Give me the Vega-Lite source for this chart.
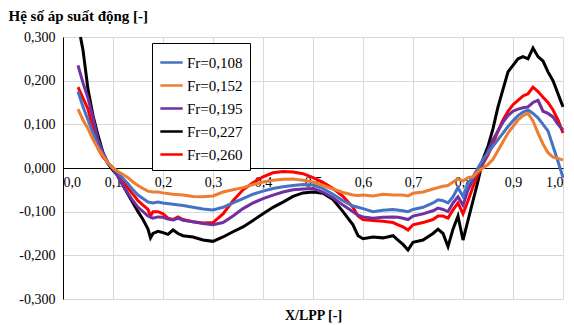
{
  "$schema": "https://vega.github.io/schema/vega-lite/v6.json",
  "width": 500,
  "height": 262,
  "autosize": {"type": "none"},
  "padding": {"left": 63, "top": 37, "right": 11, "bottom": 26},
  "config": {
    "locale": {"number": {"decimal": ",", "thousands": ".", "grouping": [3], "currency": ["", ""], "minus": "-"}},
    "view": {"stroke": null},
    "font": "'Liberation Serif', 'DejaVu Serif', serif"
  },
  "data": {"values": [
    {"s":"Fr=0,227","x":0.035,"y":0.30},{"s":"Fr=0,227","x":0.04,"y":0.27},{"s":"Fr=0,227","x":0.05,"y":0.18},{"s":"Fr=0,227","x":0.06,"y":0.12},{"s":"Fr=0,227","x":0.07,"y":0.075},{"s":"Fr=0,227","x":0.08,"y":0.035},{"s":"Fr=0,227","x":0.09,"y":0.01},{"s":"Fr=0,227","x":0.10,"y":-0.005},{"s":"Fr=0,227","x":0.11,"y":-0.018},{"s":"Fr=0,227","x":0.12,"y":-0.04},{"s":"Fr=0,227","x":0.13,"y":-0.06},{"s":"Fr=0,227","x":0.14,"y":-0.08},{"s":"Fr=0,227","x":0.15,"y":-0.10},{"s":"Fr=0,227","x":0.16,"y":-0.118},{"s":"Fr=0,227","x":0.17,"y":-0.14},{"s":"Fr=0,227","x":0.175,"y":-0.16},{"s":"Fr=0,227","x":0.18,"y":-0.15},{"s":"Fr=0,227","x":0.19,"y":-0.145},{"s":"Fr=0,227","x":0.20,"y":-0.148},{"s":"Fr=0,227","x":0.21,"y":-0.152},{"s":"Fr=0,227","x":0.22,"y":-0.142},{"s":"Fr=0,227","x":0.23,"y":-0.15},{"s":"Fr=0,227","x":0.24,"y":-0.155},{"s":"Fr=0,227","x":0.26,"y":-0.158},{"s":"Fr=0,227","x":0.28,"y":-0.165},{"s":"Fr=0,227","x":0.30,"y":-0.168},{"s":"Fr=0,227","x":0.32,"y":-0.158},{"s":"Fr=0,227","x":0.34,"y":-0.146},{"s":"Fr=0,227","x":0.36,"y":-0.135},{"s":"Fr=0,227","x":0.38,"y":-0.12},{"s":"Fr=0,227","x":0.40,"y":-0.105},{"s":"Fr=0,227","x":0.42,"y":-0.09},{"s":"Fr=0,227","x":0.44,"y":-0.078},{"s":"Fr=0,227","x":0.46,"y":-0.065},{"s":"Fr=0,227","x":0.48,"y":-0.057},{"s":"Fr=0,227","x":0.50,"y":-0.055},{"s":"Fr=0,227","x":0.52,"y":-0.058},{"s":"Fr=0,227","x":0.54,"y":-0.072},{"s":"Fr=0,227","x":0.56,"y":-0.10},{"s":"Fr=0,227","x":0.58,"y":-0.13},{"s":"Fr=0,227","x":0.59,"y":-0.155},{"s":"Fr=0,227","x":0.60,"y":-0.162},{"s":"Fr=0,227","x":0.62,"y":-0.158},{"s":"Fr=0,227","x":0.64,"y":-0.16},{"s":"Fr=0,227","x":0.66,"y":-0.155},{"s":"Fr=0,227","x":0.67,"y":-0.165},{"s":"Fr=0,227","x":0.68,"y":-0.175},{"s":"Fr=0,227","x":0.69,"y":-0.188},{"s":"Fr=0,227","x":0.70,"y":-0.17},{"s":"Fr=0,227","x":0.72,"y":-0.165},{"s":"Fr=0,227","x":0.74,"y":-0.15},{"s":"Fr=0,227","x":0.75,"y":-0.14},{"s":"Fr=0,227","x":0.76,"y":-0.15},{"s":"Fr=0,227","x":0.77,"y":-0.18},{"s":"Fr=0,227","x":0.78,"y":-0.14},{"s":"Fr=0,227","x":0.79,"y":-0.11},{"s":"Fr=0,227","x":0.80,"y":-0.165},{"s":"Fr=0,227","x":0.81,"y":-0.12},{"s":"Fr=0,227","x":0.82,"y":-0.075},{"s":"Fr=0,227","x":0.83,"y":-0.03},{"s":"Fr=0,227","x":0.84,"y":0.02},{"s":"Fr=0,227","x":0.85,"y":0.05},{"s":"Fr=0,227","x":0.86,"y":0.09},{"s":"Fr=0,227","x":0.87,"y":0.14},{"s":"Fr=0,227","x":0.88,"y":0.18},{"s":"Fr=0,227","x":0.89,"y":0.22},{"s":"Fr=0,227","x":0.90,"y":0.235},{"s":"Fr=0,227","x":0.91,"y":0.25},{"s":"Fr=0,227","x":0.92,"y":0.255},{"s":"Fr=0,227","x":0.93,"y":0.25},{"s":"Fr=0,227","x":0.94,"y":0.275},{"s":"Fr=0,227","x":0.95,"y":0.255},{"s":"Fr=0,227","x":0.96,"y":0.245},{"s":"Fr=0,227","x":0.97,"y":0.22},{"s":"Fr=0,227","x":0.98,"y":0.20},{"s":"Fr=0,227","x":0.99,"y":0.17},{"s":"Fr=0,227","x":1.00,"y":0.14},

    {"s":"Fr=0,260","x":0.03,"y":0.185},{"s":"Fr=0,260","x":0.04,"y":0.16},{"s":"Fr=0,260","x":0.05,"y":0.135},{"s":"Fr=0,260","x":0.06,"y":0.09},{"s":"Fr=0,260","x":0.07,"y":0.045},{"s":"Fr=0,260","x":0.08,"y":0.025},{"s":"Fr=0,260","x":0.09,"y":0.012},{"s":"Fr=0,260","x":0.10,"y":0.0},{"s":"Fr=0,260","x":0.11,"y":-0.015},{"s":"Fr=0,260","x":0.12,"y":-0.03},{"s":"Fr=0,260","x":0.13,"y":-0.046},{"s":"Fr=0,260","x":0.14,"y":-0.06},{"s":"Fr=0,260","x":0.15,"y":-0.075},{"s":"Fr=0,260","x":0.16,"y":-0.085},{"s":"Fr=0,260","x":0.17,"y":-0.095},{"s":"Fr=0,260","x":0.175,"y":-0.11},{"s":"Fr=0,260","x":0.18,"y":-0.10},{"s":"Fr=0,260","x":0.19,"y":-0.10},{"s":"Fr=0,260","x":0.20,"y":-0.105},{"s":"Fr=0,260","x":0.21,"y":-0.115},{"s":"Fr=0,260","x":0.22,"y":-0.118},{"s":"Fr=0,260","x":0.23,"y":-0.112},{"s":"Fr=0,260","x":0.24,"y":-0.118},{"s":"Fr=0,260","x":0.26,"y":-0.123},{"s":"Fr=0,260","x":0.28,"y":-0.126},{"s":"Fr=0,260","x":0.30,"y":-0.125},{"s":"Fr=0,260","x":0.32,"y":-0.105},{"s":"Fr=0,260","x":0.34,"y":-0.075},{"s":"Fr=0,260","x":0.36,"y":-0.05},{"s":"Fr=0,260","x":0.38,"y":-0.034},{"s":"Fr=0,260","x":0.40,"y":-0.02},{"s":"Fr=0,260","x":0.42,"y":-0.011},{"s":"Fr=0,260","x":0.44,"y":-0.008},{"s":"Fr=0,260","x":0.46,"y":-0.009},{"s":"Fr=0,260","x":0.48,"y":-0.013},{"s":"Fr=0,260","x":0.50,"y":-0.022},{"s":"Fr=0,260","x":0.52,"y":-0.033},{"s":"Fr=0,260","x":0.54,"y":-0.047},{"s":"Fr=0,260","x":0.56,"y":-0.065},{"s":"Fr=0,260","x":0.58,"y":-0.09},{"s":"Fr=0,260","x":0.59,"y":-0.11},{"s":"Fr=0,260","x":0.60,"y":-0.118},{"s":"Fr=0,260","x":0.62,"y":-0.12},{"s":"Fr=0,260","x":0.64,"y":-0.122},{"s":"Fr=0,260","x":0.66,"y":-0.125},{"s":"Fr=0,260","x":0.67,"y":-0.13},{"s":"Fr=0,260","x":0.68,"y":-0.135},{"s":"Fr=0,260","x":0.69,"y":-0.142},{"s":"Fr=0,260","x":0.70,"y":-0.13},{"s":"Fr=0,260","x":0.72,"y":-0.125},{"s":"Fr=0,260","x":0.74,"y":-0.118},{"s":"Fr=0,260","x":0.75,"y":-0.11},{"s":"Fr=0,260","x":0.76,"y":-0.11},{"s":"Fr=0,260","x":0.77,"y":-0.115},{"s":"Fr=0,260","x":0.78,"y":-0.096},{"s":"Fr=0,260","x":0.79,"y":-0.08},{"s":"Fr=0,260","x":0.80,"y":-0.105},{"s":"Fr=0,260","x":0.81,"y":-0.075},{"s":"Fr=0,260","x":0.82,"y":-0.043},{"s":"Fr=0,260","x":0.83,"y":-0.015},{"s":"Fr=0,260","x":0.84,"y":0.01},{"s":"Fr=0,260","x":0.85,"y":0.03},{"s":"Fr=0,260","x":0.86,"y":0.055},{"s":"Fr=0,260","x":0.87,"y":0.085},{"s":"Fr=0,260","x":0.88,"y":0.11},{"s":"Fr=0,260","x":0.89,"y":0.13},{"s":"Fr=0,260","x":0.90,"y":0.145},{"s":"Fr=0,260","x":0.91,"y":0.155},{"s":"Fr=0,260","x":0.92,"y":0.165},{"s":"Fr=0,260","x":0.93,"y":0.17},{"s":"Fr=0,260","x":0.94,"y":0.185},{"s":"Fr=0,260","x":0.95,"y":0.175},{"s":"Fr=0,260","x":0.96,"y":0.162},{"s":"Fr=0,260","x":0.97,"y":0.15},{"s":"Fr=0,260","x":0.98,"y":0.133},{"s":"Fr=0,260","x":0.99,"y":0.11},{"s":"Fr=0,260","x":1.00,"y":0.08},

    {"s":"Fr=0,195","x":0.03,"y":0.235},{"s":"Fr=0,195","x":0.04,"y":0.195},{"s":"Fr=0,195","x":0.05,"y":0.16},{"s":"Fr=0,195","x":0.06,"y":0.115},{"s":"Fr=0,195","x":0.07,"y":0.065},{"s":"Fr=0,195","x":0.08,"y":0.035},{"s":"Fr=0,195","x":0.09,"y":0.012},{"s":"Fr=0,195","x":0.10,"y":-0.002},{"s":"Fr=0,195","x":0.11,"y":-0.02},{"s":"Fr=0,195","x":0.12,"y":-0.04},{"s":"Fr=0,195","x":0.13,"y":-0.058},{"s":"Fr=0,195","x":0.14,"y":-0.075},{"s":"Fr=0,195","x":0.15,"y":-0.09},{"s":"Fr=0,195","x":0.16,"y":-0.10},{"s":"Fr=0,195","x":0.17,"y":-0.11},{"s":"Fr=0,195","x":0.18,"y":-0.115},{"s":"Fr=0,195","x":0.19,"y":-0.112},{"s":"Fr=0,195","x":0.20,"y":-0.113},{"s":"Fr=0,195","x":0.21,"y":-0.117},{"s":"Fr=0,195","x":0.22,"y":-0.119},{"s":"Fr=0,195","x":0.23,"y":-0.115},{"s":"Fr=0,195","x":0.24,"y":-0.12},{"s":"Fr=0,195","x":0.26,"y":-0.123},{"s":"Fr=0,195","x":0.28,"y":-0.127},{"s":"Fr=0,195","x":0.30,"y":-0.13},{"s":"Fr=0,195","x":0.32,"y":-0.125},{"s":"Fr=0,195","x":0.34,"y":-0.11},{"s":"Fr=0,195","x":0.36,"y":-0.093},{"s":"Fr=0,195","x":0.38,"y":-0.08},{"s":"Fr=0,195","x":0.40,"y":-0.07},{"s":"Fr=0,195","x":0.42,"y":-0.062},{"s":"Fr=0,195","x":0.44,"y":-0.055},{"s":"Fr=0,195","x":0.46,"y":-0.05},{"s":"Fr=0,195","x":0.48,"y":-0.048},{"s":"Fr=0,195","x":0.50,"y":-0.047},{"s":"Fr=0,195","x":0.52,"y":-0.055},{"s":"Fr=0,195","x":0.54,"y":-0.068},{"s":"Fr=0,195","x":0.56,"y":-0.085},{"s":"Fr=0,195","x":0.58,"y":-0.10},{"s":"Fr=0,195","x":0.59,"y":-0.108},{"s":"Fr=0,195","x":0.60,"y":-0.112},{"s":"Fr=0,195","x":0.62,"y":-0.115},{"s":"Fr=0,195","x":0.64,"y":-0.113},{"s":"Fr=0,195","x":0.66,"y":-0.112},{"s":"Fr=0,195","x":0.67,"y":-0.113},{"s":"Fr=0,195","x":0.68,"y":-0.115},{"s":"Fr=0,195","x":0.69,"y":-0.118},{"s":"Fr=0,195","x":0.70,"y":-0.11},{"s":"Fr=0,195","x":0.72,"y":-0.105},{"s":"Fr=0,195","x":0.74,"y":-0.098},{"s":"Fr=0,195","x":0.75,"y":-0.092},{"s":"Fr=0,195","x":0.76,"y":-0.095},{"s":"Fr=0,195","x":0.77,"y":-0.10},{"s":"Fr=0,195","x":0.78,"y":-0.08},{"s":"Fr=0,195","x":0.79,"y":-0.066},{"s":"Fr=0,195","x":0.80,"y":-0.085},{"s":"Fr=0,195","x":0.81,"y":-0.05},{"s":"Fr=0,195","x":0.82,"y":-0.027},{"s":"Fr=0,195","x":0.83,"y":-0.008},{"s":"Fr=0,195","x":0.84,"y":0.012},{"s":"Fr=0,195","x":0.85,"y":0.04},{"s":"Fr=0,195","x":0.86,"y":0.065},{"s":"Fr=0,195","x":0.87,"y":0.085},{"s":"Fr=0,195","x":0.88,"y":0.105},{"s":"Fr=0,195","x":0.89,"y":0.12},{"s":"Fr=0,195","x":0.90,"y":0.13},{"s":"Fr=0,195","x":0.91,"y":0.135},{"s":"Fr=0,195","x":0.92,"y":0.138},{"s":"Fr=0,195","x":0.93,"y":0.14},{"s":"Fr=0,195","x":0.94,"y":0.15},{"s":"Fr=0,195","x":0.95,"y":0.155},{"s":"Fr=0,195","x":0.96,"y":0.13},{"s":"Fr=0,195","x":0.97,"y":0.125},{"s":"Fr=0,195","x":0.98,"y":0.117},{"s":"Fr=0,195","x":0.99,"y":0.10},{"s":"Fr=0,195","x":1.00,"y":0.087},

    {"s":"Fr=0,108","x":0.03,"y":0.175},{"s":"Fr=0,108","x":0.04,"y":0.14},{"s":"Fr=0,108","x":0.05,"y":0.11},{"s":"Fr=0,108","x":0.06,"y":0.08},{"s":"Fr=0,108","x":0.07,"y":0.05},{"s":"Fr=0,108","x":0.08,"y":0.03},{"s":"Fr=0,108","x":0.09,"y":0.012},{"s":"Fr=0,108","x":0.10,"y":0.0},{"s":"Fr=0,108","x":0.11,"y":-0.01},{"s":"Fr=0,108","x":0.12,"y":-0.024},{"s":"Fr=0,108","x":0.13,"y":-0.036},{"s":"Fr=0,108","x":0.14,"y":-0.05},{"s":"Fr=0,108","x":0.15,"y":-0.062},{"s":"Fr=0,108","x":0.16,"y":-0.07},{"s":"Fr=0,108","x":0.17,"y":-0.078},{"s":"Fr=0,108","x":0.18,"y":-0.08},{"s":"Fr=0,108","x":0.19,"y":-0.078},{"s":"Fr=0,108","x":0.20,"y":-0.08},{"s":"Fr=0,108","x":0.22,"y":-0.083},{"s":"Fr=0,108","x":0.24,"y":-0.086},{"s":"Fr=0,108","x":0.26,"y":-0.09},{"s":"Fr=0,108","x":0.28,"y":-0.094},{"s":"Fr=0,108","x":0.30,"y":-0.096},{"s":"Fr=0,108","x":0.32,"y":-0.09},{"s":"Fr=0,108","x":0.34,"y":-0.08},{"s":"Fr=0,108","x":0.36,"y":-0.07},{"s":"Fr=0,108","x":0.38,"y":-0.06},{"s":"Fr=0,108","x":0.40,"y":-0.053},{"s":"Fr=0,108","x":0.42,"y":-0.047},{"s":"Fr=0,108","x":0.44,"y":-0.043},{"s":"Fr=0,108","x":0.46,"y":-0.04},{"s":"Fr=0,108","x":0.48,"y":-0.038},{"s":"Fr=0,108","x":0.50,"y":-0.039},{"s":"Fr=0,108","x":0.52,"y":-0.047},{"s":"Fr=0,108","x":0.54,"y":-0.06},{"s":"Fr=0,108","x":0.56,"y":-0.075},{"s":"Fr=0,108","x":0.58,"y":-0.087},{"s":"Fr=0,108","x":0.59,"y":-0.09},{"s":"Fr=0,108","x":0.60,"y":-0.093},{"s":"Fr=0,108","x":0.62,"y":-0.10},{"s":"Fr=0,108","x":0.64,"y":-0.097},{"s":"Fr=0,108","x":0.66,"y":-0.095},{"s":"Fr=0,108","x":0.68,"y":-0.098},{"s":"Fr=0,108","x":0.69,"y":-0.10},{"s":"Fr=0,108","x":0.70,"y":-0.095},{"s":"Fr=0,108","x":0.72,"y":-0.09},{"s":"Fr=0,108","x":0.74,"y":-0.08},{"s":"Fr=0,108","x":0.75,"y":-0.073},{"s":"Fr=0,108","x":0.76,"y":-0.075},{"s":"Fr=0,108","x":0.77,"y":-0.08},{"s":"Fr=0,108","x":0.78,"y":-0.066},{"s":"Fr=0,108","x":0.79,"y":-0.045},{"s":"Fr=0,108","x":0.80,"y":-0.065},{"s":"Fr=0,108","x":0.81,"y":-0.035},{"s":"Fr=0,108","x":0.82,"y":-0.02},{"s":"Fr=0,108","x":0.83,"y":0.0},{"s":"Fr=0,108","x":0.84,"y":0.02},{"s":"Fr=0,108","x":0.85,"y":0.035},{"s":"Fr=0,108","x":0.86,"y":0.05},{"s":"Fr=0,108","x":0.87,"y":0.065},{"s":"Fr=0,108","x":0.88,"y":0.08},{"s":"Fr=0,108","x":0.89,"y":0.095},{"s":"Fr=0,108","x":0.90,"y":0.108},{"s":"Fr=0,108","x":0.91,"y":0.12},{"s":"Fr=0,108","x":0.92,"y":0.128},{"s":"Fr=0,108","x":0.93,"y":0.133},{"s":"Fr=0,108","x":0.94,"y":0.125},{"s":"Fr=0,108","x":0.95,"y":0.115},{"s":"Fr=0,108","x":0.96,"y":0.10},{"s":"Fr=0,108","x":0.97,"y":0.085},{"s":"Fr=0,108","x":0.98,"y":0.05},{"s":"Fr=0,108","x":0.99,"y":0.015},{"s":"Fr=0,108","x":1.00,"y":-0.022},

    {"s":"Fr=0,152","x":0.03,"y":0.135},{"s":"Fr=0,152","x":0.04,"y":0.11},{"s":"Fr=0,152","x":0.05,"y":0.09},{"s":"Fr=0,152","x":0.06,"y":0.065},{"s":"Fr=0,152","x":0.07,"y":0.045},{"s":"Fr=0,152","x":0.08,"y":0.028},{"s":"Fr=0,152","x":0.09,"y":0.012},{"s":"Fr=0,152","x":0.10,"y":0.0},{"s":"Fr=0,152","x":0.11,"y":-0.008},{"s":"Fr=0,152","x":0.12,"y":-0.015},{"s":"Fr=0,152","x":0.13,"y":-0.022},{"s":"Fr=0,152","x":0.14,"y":-0.032},{"s":"Fr=0,152","x":0.15,"y":-0.04},{"s":"Fr=0,152","x":0.16,"y":-0.047},{"s":"Fr=0,152","x":0.17,"y":-0.053},{"s":"Fr=0,152","x":0.18,"y":-0.055},{"s":"Fr=0,152","x":0.19,"y":-0.055},{"s":"Fr=0,152","x":0.20,"y":-0.057},{"s":"Fr=0,152","x":0.22,"y":-0.06},{"s":"Fr=0,152","x":0.24,"y":-0.062},{"s":"Fr=0,152","x":0.26,"y":-0.065},{"s":"Fr=0,152","x":0.28,"y":-0.066},{"s":"Fr=0,152","x":0.30,"y":-0.064},{"s":"Fr=0,152","x":0.32,"y":-0.055},{"s":"Fr=0,152","x":0.34,"y":-0.05},{"s":"Fr=0,152","x":0.36,"y":-0.045},{"s":"Fr=0,152","x":0.38,"y":-0.038},{"s":"Fr=0,152","x":0.40,"y":-0.032},{"s":"Fr=0,152","x":0.42,"y":-0.028},{"s":"Fr=0,152","x":0.44,"y":-0.026},{"s":"Fr=0,152","x":0.46,"y":-0.025},{"s":"Fr=0,152","x":0.48,"y":-0.028},{"s":"Fr=0,152","x":0.50,"y":-0.032},{"s":"Fr=0,152","x":0.52,"y":-0.04},{"s":"Fr=0,152","x":0.54,"y":-0.048},{"s":"Fr=0,152","x":0.56,"y":-0.056},{"s":"Fr=0,152","x":0.58,"y":-0.062},{"s":"Fr=0,152","x":0.59,"y":-0.063},{"s":"Fr=0,152","x":0.60,"y":-0.062},{"s":"Fr=0,152","x":0.62,"y":-0.064},{"s":"Fr=0,152","x":0.64,"y":-0.06},{"s":"Fr=0,152","x":0.66,"y":-0.062},{"s":"Fr=0,152","x":0.68,"y":-0.062},{"s":"Fr=0,152","x":0.69,"y":-0.064},{"s":"Fr=0,152","x":0.70,"y":-0.058},{"s":"Fr=0,152","x":0.72,"y":-0.055},{"s":"Fr=0,152","x":0.74,"y":-0.048},{"s":"Fr=0,152","x":0.75,"y":-0.045},{"s":"Fr=0,152","x":0.76,"y":-0.042},{"s":"Fr=0,152","x":0.77,"y":-0.04},{"s":"Fr=0,152","x":0.78,"y":-0.032},{"s":"Fr=0,152","x":0.79,"y":-0.025},{"s":"Fr=0,152","x":0.80,"y":-0.03},{"s":"Fr=0,152","x":0.81,"y":-0.022},{"s":"Fr=0,152","x":0.82,"y":-0.02},{"s":"Fr=0,152","x":0.83,"y":-0.008},{"s":"Fr=0,152","x":0.84,"y":0.0},{"s":"Fr=0,152","x":0.85,"y":0.008},{"s":"Fr=0,152","x":0.86,"y":0.02},{"s":"Fr=0,152","x":0.87,"y":0.04},{"s":"Fr=0,152","x":0.88,"y":0.06},{"s":"Fr=0,152","x":0.89,"y":0.08},{"s":"Fr=0,152","x":0.90,"y":0.095},{"s":"Fr=0,152","x":0.91,"y":0.11},{"s":"Fr=0,152","x":0.92,"y":0.12},{"s":"Fr=0,152","x":0.93,"y":0.125},{"s":"Fr=0,152","x":0.94,"y":0.108},{"s":"Fr=0,152","x":0.95,"y":0.08},{"s":"Fr=0,152","x":0.96,"y":0.055},{"s":"Fr=0,152","x":0.97,"y":0.035},{"s":"Fr=0,152","x":0.98,"y":0.025},{"s":"Fr=0,152","x":0.99,"y":0.022},{"s":"Fr=0,152","x":1.00,"y":0.018}
  ]},
  "mark": {"type": "line", "strokeWidth": 3},
  "encoding": {
    "x": {
      "field": "x", "type": "quantitative",
      "scale": {"domain": [0, 1], "nice": false},
      "axis": {
        "values": [0, 0.1, 0.2, 0.3, 0.4, 0.5, 0.6, 0.7, 0.8, 0.9, 1.0],
        "format": ".1f", "offset": -131, "ticks": false,
        "labelFont": "'Liberation Serif', 'DejaVu Serif', serif",
        "labelFontSize": 14, "labelPadding": 7, "labelColor": "#000000",
        "domainColor": "#000000", "domainWidth": 1,
        "gridColor": "#d9d9d9", "gridWidth": 1,
        "title": "X/LPP [-]", "titleFont": "'Liberation Serif', 'DejaVu Serif', serif",
        "titleFontSize": 14, "titleFontWeight": "bold", "titleColor": "#000000",
        "titleY": 140, "titleBaseline": "top"
      }
    },
    "y": {
      "field": "y", "type": "quantitative",
      "scale": {"domain": [-0.3, 0.3], "nice": false},
      "axis": {
        "values": [-0.3, -0.2, -0.1, 0, 0.1, 0.2, 0.3],
        "format": ".3f", "ticks": false,
        "labelFont": "'Liberation Serif', 'DejaVu Serif', serif",
        "labelFontSize": 14, "labelPadding": 8, "labelColor": "#000000",
        "domainColor": "#000000", "domainWidth": 1,
        "gridColor": "#d9d9d9", "gridWidth": 1,
        "title": "Hệ số áp suất động [-]", "titleAngle": 0, "titleAlign": "left",
        "titleBaseline": "middle", "titleX": -55, "titleY": -22,
        "titleFont": "'Liberation Serif', 'DejaVu Serif', serif",
        "titleFontSize": 15, "titleFontWeight": "bold", "titleColor": "#000000"
      }
    },
    "color": {
      "field": "s", "type": "nominal",
      "scale": {
        "domain": ["Fr=0,108", "Fr=0,152", "Fr=0,195", "Fr=0,227", "Fr=0,260"],
        "range": ["#4472C4", "#ED7D31", "#7030A0", "#000000", "#FF0000"]
      },
      "legend": {
        "title": null, "orient": "none", "legendX": 89, "legendY": 6,
        "symbolType": "stroke", "symbolSize": 500, "symbolStrokeWidth": 2.5,
        "labelFont": "'Liberation Serif', 'DejaVu Serif', serif",
        "labelFontSize": 15, "labelColor": "#000000", "labelOffset": 3,
        "rowPadding": 2, "padding": 7, "strokeColor": "#000000", "fillColor": "#ffffff",
        "cornerRadius": 0
      }
    }
  }
}
